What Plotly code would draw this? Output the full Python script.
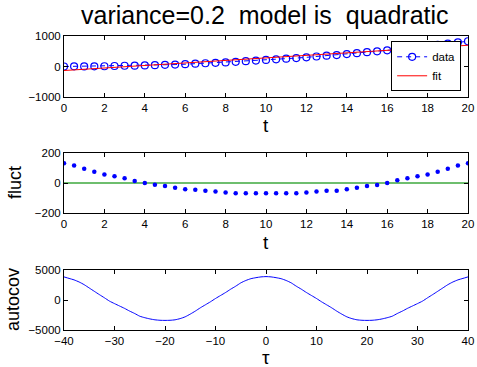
import plotly.graph_objects as go

# ---- data ----
t = [i * 0.5 for i in range(41)]
data_vals = [0, 5, 4, 5, 8, 17, 24, 27, 34, 43, 55, 64, 75, 92, 106, 121, 135, 152,
             173, 193, 214, 235, 255, 276, 301, 328, 354, 375, 407, 436, 469, 496,
             530, 569, 604, 637, 670, 709, 750, 791, 828]
fit_vals = [-132, -111, -91, -70, -49, -28, -8, 13, 34, 54, 75, 96, 116, 137, 158,
            178, 199, 220, 241, 261, 282, 303, 323, 344, 365, 385, 406, 427, 448,
            468, 489, 510, 530, 551, 572, 592, 613, 634, 655, 675, 696]
fluct_vals = [132, 116, 95, 75, 57, 45, 32, 14, 0, -11, -20, -32, -41, -45, -52, -57,
              -64, -68, -68, -68, -68, -68, -68, -68, -64, -57, -52, -52, -41, -32,
              -20, -14, 0, 18, 32, 45, 57, 75, 95, 116, 132]
tau = list(range(-40, 41))
acov_half = [3900, 3850, 3720, 3550, 3250, 2850, 2300, 1800, 1250, 750, 250, -300,
             -800, -1300, -1850, -2350, -2800, -3100, -3300, -3380, -3400, -3380,
             -3300, -3150, -2950, -2700, -2250, -1850, -1400, -1000, -600, -180,
             370, 900, 1450, 2000, 2550, 3000, 3350, 3600, 3850]
acov_vals = acov_half[::-1] + acov_half[1:]

x1_ticks = list(range(0, 21, 2))
tau_ticks = list(range(-40, 41, 10))

FONT = "Liberation Sans, Arial, sans-serif"

fig = go.Figure()
fig.add_trace(go.Scatter(x=t, y=data_vals, mode="lines+markers", name="data",
                         line=dict(color="blue", width=1, dash="5px,4px"),
                         marker=dict(symbol="circle-open", size=7, color="blue",
                                     line=dict(width=1.2)),
                         xaxis="x", yaxis="y"))
fig.add_trace(go.Scatter(x=t, y=fit_vals, mode="lines", name="fit",
                         line=dict(color="red", width=1), xaxis="x", yaxis="y"))
fig.add_trace(go.Scatter(x=[0, 20], y=[0, 0], mode="lines", showlegend=False,
                         line=dict(color="rgb(110,190,110)", width=2),
                         xaxis="x2", yaxis="y2"))
fig.add_trace(go.Scatter(x=t, y=fluct_vals, mode="markers", showlegend=False,
                         marker=dict(color="blue", size=4.5),
                         xaxis="x2", yaxis="y2"))
fig.add_trace(go.Scatter(x=tau, y=acov_vals, mode="lines", showlegend=False,
                         line=dict(color="blue", width=1, shape="spline", smoothing=0.6),
                         xaxis="x3", yaxis="y3"))

H = 294.0
def dom(top_px, bot_px):
    return [(330 - bot_px) / H, (330 - top_px) / H]

ax_common = dict(showline=True, linecolor="black", linewidth=1, mirror="ticks",
                 ticks="inside", ticklen=4, tickcolor="black", showgrid=False,
                 zeroline=False, automargin=False,
                 tickfont=dict(family=FONT, size=11.5, color="black"))

fig.update_layout(
    width=477, height=367,
    margin=dict(l=64, r=9, t=36, b=37, autoexpand=False),
    paper_bgcolor="white", plot_bgcolor="white",
    showlegend=True,
    legend=dict(x=0.983, y=0.982, xanchor="right", yanchor="top",
                bgcolor="white", bordercolor="black", borderwidth=1,
                font=dict(family=FONT, size=11.5, color="black"),
                tracegroupgap=0, itemwidth=30),
    xaxis=dict(domain=[0, 1], range=[0, 20], tickvals=x1_ticks, anchor="y", **ax_common),
    yaxis=dict(domain=dom(36, 97), range=[-1000, 1000], tickvals=[-1000, 0, 1000],
               anchor="x", **ax_common),
    xaxis2=dict(domain=[0, 1], range=[0, 20], tickvals=x1_ticks, anchor="y2", **ax_common),
    yaxis2=dict(domain=dom(153, 213), range=[-200, 200], tickvals=[-200, 0, 200],
                anchor="x2", **ax_common),
    xaxis3=dict(domain=[0, 1], range=[-40, 40], tickvals=tau_ticks, anchor="y3", **ax_common),
    yaxis3=dict(domain=dom(270, 330), range=[-5000, 5000], tickvals=[-5000, 0, 5000],
                anchor="x3", **ax_common),
)

def ann(text, x_px, y_px, size, angle=0):
    fig.add_annotation(text=text, xref="paper", yref="paper",
                       x=(x_px - 64) / 404.0, y=(330 - y_px) / H,
                       showarrow=False, textangle=angle,
                       font=dict(family=FONT, size=size, color="black"),
                       xanchor="center", yanchor="middle")

ann("variance=0.2  model is  quadratic", 265, 15, 25)
ann("t", 266, 125, 19)
ann("t", 266, 242, 19)
ann("τ", 266, 357, 19)
ann("fluct", 15, 183, 18, -90)
ann("autocov", 13, 300, 18, -90)

fig.write_html("out.html")
